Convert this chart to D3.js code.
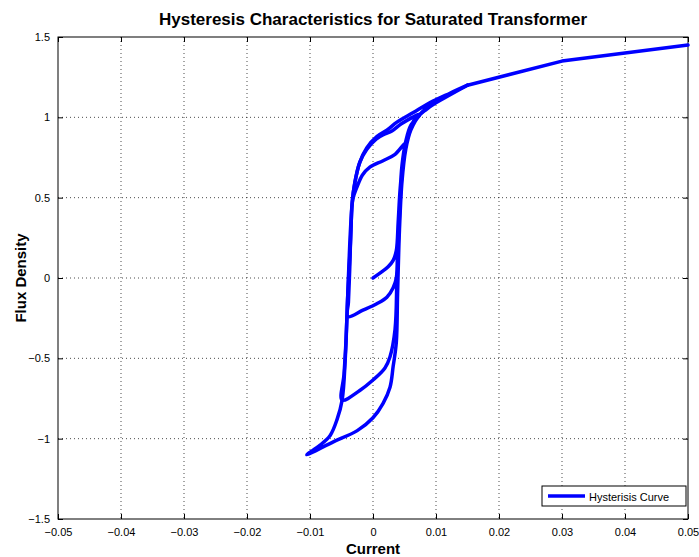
<!DOCTYPE html>
<html>
<head>
<meta charset="utf-8">
<script src="https://cdnjs.cloudflare.com/ajax/libs/d3/7.8.5/d3.min.js"></script>
<style>
  body { margin: 0; background: #fff; }
  svg { display: block; font-family: "Liberation Sans", Arial, sans-serif; }
  .grid line { stroke: #000; stroke-width: 1; stroke-dasharray: 1,3; opacity: 0.7; }
  .axis path { display: none; }
  .axis line { stroke: #000; }
  .axis text { font-size: 11px; fill: #000; }
</style>
</head>
<body>
<div id="chart"></div>
<script>
// [current, flux density], in drawing order
var initialCurve = [[0, 0], [0.0011, 0.03], [0.0024, 0.07], [0.0032, 0.11], [0.0037, 0.17],
  [0.004, 0.35], [0.0043, 0.55], [0.0048, 0.75], [0.0052, 0.84]];
var descent1 = [[0.0035, 0.77], [0.0016, 0.73], [-0.0005, 0.69], [-0.0017, 0.64], [-0.0025, 0.57],
  [-0.0032, 0.49], [-0.0035, 0.3], [-0.0037, 0.05], [-0.0039, -0.15], [-0.004, -0.24]];
var ascent1 = [[-0.0016, -0.2], [0.0006, -0.16], [0.0022, -0.12], [0.0032, -0.06], [0.0037, 0.0],
  [0.0039, 0.2], [0.0042, 0.45], [0.0046, 0.7], [0.0052, 0.85], [0.006, 0.95], [0.0075, 1.02]];
var descent2 = [[0.0045, 0.96], [0.003, 0.915], [0.0018, 0.895], [0.0005, 0.865], [-0.001, 0.8],
  [-0.0021, 0.72], [-0.0029, 0.59], [-0.0033, 0.47], [-0.0037, 0.2], [-0.004, -0.1],
  [-0.0043, -0.4], [-0.0046, -0.6], [-0.0049, -0.76]];
var ascent2 = [[-0.0021, -0.7], [0.0, -0.635], [0.0019, -0.56], [0.0027, -0.49], [0.0035, -0.32],
  [0.0038, 0.0], [0.0041, 0.3], [0.0045, 0.6], [0.005, 0.8], [0.0057, 0.9], [0.0065, 0.98],
  [0.0085, 1.05], [0.01, 1.09], [0.015, 1.2], [0.03, 1.35], [0.05, 1.45]];
var descent3 = [[0.03, 1.35], [0.015, 1.2], [0.0122, 1.15], [0.009, 1.09], [0.0064, 1.03],
  [0.0038, 0.97], [0.0022, 0.92], [0.0006, 0.88], [-0.001, 0.81], [-0.0021, 0.72],
  [-0.0029, 0.59], [-0.0033, 0.47], [-0.0036, 0.2], [-0.004, -0.1], [-0.0044, -0.5],
  [-0.0049, -0.76], [-0.0057, -0.88], [-0.0068, -0.98], [-0.0084, -1.04], [-0.0105, -1.1]];
var ascent3 = [[-0.0063, -1.02], [-0.0025, -0.95], [0.0, -0.87], [0.0016, -0.78], [0.0027, -0.68],
  [0.0032, -0.55], [0.0037, -0.4], [0.0039, -0.1], [0.0042, 0.3], [0.0046, 0.6], [0.0052, 0.8],
  [0.006, 0.92], [0.0075, 1.02], [0.01, 1.1], [0.015, 1.2]];

var xTicks = [-0.05, -0.04, -0.03, -0.02, -0.01, 0, 0.01, 0.02, 0.03, 0.04, 0.05];
var yTicks = [-1.5, -1, -0.5, 0, 0.5, 1, 1.5];

var data = [].concat(initialCurve, descent1, ascent1, descent2, ascent2, descent3, ascent3);

var margin = {top: 37, right: 11, bottom: 38, left: 58},
    width = 699 - margin.left - margin.right,
    height = 557 - margin.top - margin.bottom;

var x = d3.scaleLinear().domain([-0.05, 0.05]).range([0, width]);
var y = d3.scaleLinear().domain([-1.5, 1.5]).range([height, 0]);

var svg = d3.select("#chart").append("svg")
    .attr("width", 699)
    .attr("height", 557)
  .append("g")
    .attr("transform", "translate(" + margin.left + "," + margin.top + ")");

// dotted grid
svg.append("g").attr("class", "grid")
  .selectAll("line").data(xTicks.slice(1, -1)).enter().append("line")
    .attr("x1", d => x(d)).attr("x2", d => x(d))
    .attr("y1", 0).attr("y2", height);
svg.append("g").attr("class", "grid")
  .selectAll("line").data(yTicks.slice(1, -1)).enter().append("line")
    .attr("y1", d => y(d)).attr("y2", d => y(d))
    .attr("x1", 0).attr("x2", width);

var fmt = d => d3.format("")(+d.toFixed(2));

// ticks point inward, on all four sides like matlab
svg.append("g").attr("class", "axis")
    .attr("transform", "translate(0," + height + ")")
    .call(d3.axisBottom(x).tickValues(xTicks).tickSizeInner(-5).tickSizeOuter(0).tickPadding(9).tickFormat(fmt));
svg.append("g").attr("class", "axis")
    .call(d3.axisTop(x).tickValues(xTicks).tickSizeInner(-5).tickSizeOuter(0).tickFormat(""));
svg.append("g").attr("class", "axis")
    .call(d3.axisLeft(y).tickValues(yTicks).tickSizeInner(-5).tickSizeOuter(0).tickPadding(8).tickFormat(fmt));
svg.append("g").attr("class", "axis")
    .attr("transform", "translate(" + width + ",0)")
    .call(d3.axisRight(y).tickValues(yTicks).tickSizeInner(-5).tickSizeOuter(0).tickFormat(""));

svg.append("rect")
    .attr("width", width).attr("height", height)
    .attr("fill", "none").attr("stroke", "#000").attr("stroke-width", 1);

// the saturated part (current >= 0.015) is drawn straight, the loops smooth
var isSat = d => d[0] >= 0.015;
var segments = [];
for (var i = 1; i < data.length; i++) {
  var sat = isSat(data[i - 1]) && isSat(data[i]);
  var last = segments[segments.length - 1];
  if (last && last.sat === sat) {
    last.pts.push(data[i]);
  } else {
    segments.push({sat: sat, pts: [data[i - 1], data[i]]});
  }
}

var smooth = d3.line()
    .x(d => x(d[0]))
    .y(d => y(d[1]))
    .curve(d3.curveCatmullRom.alpha(0.5));
var straight = d3.line()
    .x(d => x(d[0]))
    .y(d => y(d[1]));

svg.selectAll(".curve")
  .data(segments)
  .enter().append("path")
    .attr("class", "curve")
    .attr("d", d => (d.sat ? straight : smooth)(d.pts))
    .attr("fill", "none")
    .attr("stroke", "#0000ff")
    .attr("stroke-width", 3.5)
    .attr("stroke-linejoin", "round")
    .attr("stroke-linecap", "round");

// title and labels
svg.append("text")
    .attr("x", width / 2).attr("y", -12)
    .attr("text-anchor", "middle")
    .style("font-size", "17px").style("font-weight", "bold")
    .text("Hysteresis Characteristics for Saturated Transformer");

svg.append("text")
    .attr("x", width / 2).attr("y", height + 35)
    .attr("text-anchor", "middle")
    .style("font-size", "15px").style("font-weight", "bold")
    .text("Current");

svg.append("text")
    .attr("transform", "rotate(-90)")
    .attr("x", -height / 2).attr("y", -32)
    .attr("text-anchor", "middle")
    .style("font-size", "15px").style("font-weight", "bold")
    .text("Flux Density");

// legend
var legend = svg.append("g")
    .attr("transform", "translate(" + (width - 146) + "," + (height - 33) + ")");
legend.append("rect")
    .attr("width", 144).attr("height", 20)
    .attr("fill", "#fff").attr("stroke", "#000");
legend.append("line")
    .attr("x1", 6).attr("x2", 43).attr("y1", 10).attr("y2", 10)
    .attr("stroke", "#0000ff").attr("stroke-width", 3.5);
legend.append("text")
    .attr("x", 47).attr("y", 14.5)
    .style("font-size", "11px")
    .text("Hysterisis Curve");
</script>
</body>
</html>
